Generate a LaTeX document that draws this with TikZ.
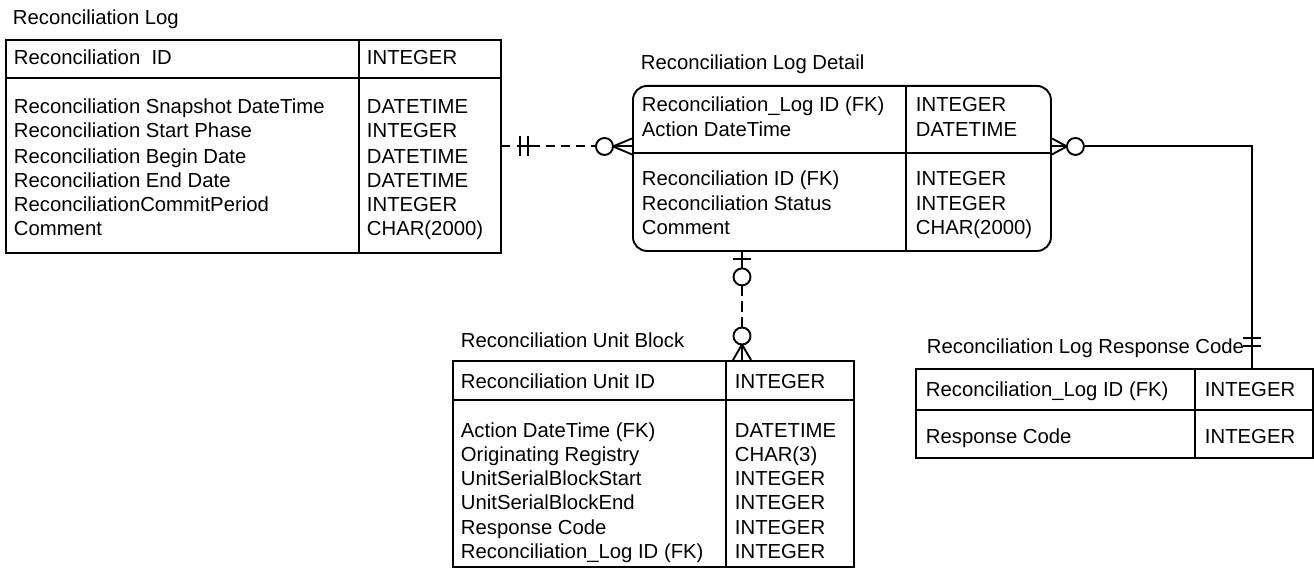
\documentclass[tikz,border=0pt]{standalone}
\usepackage{fontspec}
\setmainfont{Liberation Sans}
\usetikzlibrary{calc}
\begin{document}
\begin{tikzpicture}[x=1pt,y=-1pt,line width=1.9pt,
  txt/.style={inner sep=0pt,anchor=base west,font=\fontsize{20.3}{24}\selectfont},
  ent/.style={draw,inner sep=0pt,anchor=north west},
  conn/.style={line width=1.9pt},
  dsh/.style={dash pattern=on 9pt off 6pt}]
\useasboundingbox (0,0) rectangle (1314,575);

% ---------- Reconciliation Log ----------
\node[ent,minimum width=495pt,minimum height=213pt] (log) at (5,39) {};
\draw (359,39) -- (359,252);
\draw (5,78) -- (500,78);
\node[txt] (logT) at (12,25) {Reconciliation Log};
\node[txt] (logH) at (13,65) {Reconciliation\ \ ID};
\node[txt] (logHt) at (366,65) {INTEGER};
\node[txt] (log1) at (13,114) {Reconciliation Snapshot DateTime};
\node[txt] (log2) at (13,138) {Reconciliation Start Phase};
\node[txt] (log3) at (13,163) {Reconciliation Begin Date};
\node[txt] (log4) at (13,187) {Reconciliation End Date};
\node[txt] (log5) at (13,211) {ReconciliationCommitPeriod};
\node[txt] (log6) at (13,235) {Comment};
\node[txt] (log1t) at (366,114) {DATETIME};
\node[txt] (log2t) at (366,138) {INTEGER};
\node[txt] (log3t) at (366,163) {DATETIME};
\node[txt] (log4t) at (366,187) {DATETIME};
\node[txt] (log5t) at (366,211) {INTEGER};
\node[txt] (log6t) at (366,235) {CHAR(2000)};

% ---------- Reconciliation Log Detail ----------
\node[ent,rounded corners=14pt,minimum width=418pt,minimum height=165pt] (det) at (632,85) {};
\draw (906,85) -- (906,250);
\draw (632,153) -- (1050,153);
\node[txt] (detT) at (640,70) {Reconciliation Log Detail};
\node[txt] (det1) at (641,112) {Reconciliation\_Log ID (FK)};
\node[txt] (det2) at (641,137) {Action DateTime};
\node[txt] (det3) at (641,185) {Reconciliation ID (FK)};
\node[txt] (det4) at (641,210) {Reconciliation Status};
\node[txt] (det5) at (641,234) {Comment};
\node[txt] (det1t) at (915,112) {INTEGER};
\node[txt] (det2t) at (915,137) {DATETIME};
\node[txt] (det3t) at (915,185) {INTEGER};
\node[txt] (det4t) at (915,210) {INTEGER};
\node[txt] (det5t) at (915,234) {CHAR(2000)};

% ---------- Reconciliation Unit Block ----------
\node[ent,minimum width=401pt,minimum height=206pt] (unit) at (452,360) {};
\draw (726,360) -- (726,566);
\draw (452,400) -- (853,400);
\node[txt] (unitT) at (460,347) {Reconciliation Unit Block};
\node[txt] (unitH) at (460,388) {Reconciliation Unit ID};
\node[txt] (unitHt) at (734,388) {INTEGER};
\node[txt] (unit1) at (460,437) {Action DateTime (FK)};
\node[txt] (unit2) at (460,461) {Originating Registry};
\node[txt] (unit3) at (460,485) {UnitSerialBlockStart};
\node[txt] (unit4) at (460,509) {UnitSerialBlockEnd};
\node[txt] (unit5) at (460,534) {Response Code};
\node[txt] (unit6) at (460,558) {Reconciliation\_Log ID (FK)};
\node[txt] (unit1t) at (734,437) {DATETIME};
\node[txt] (unit2t) at (734,461) {CHAR(3)};
\node[txt] (unit3t) at (734,485) {INTEGER};
\node[txt] (unit4t) at (734,509) {INTEGER};
\node[txt] (unit5t) at (734,534) {INTEGER};
\node[txt] (unit6t) at (734,558) {INTEGER};

% ---------- Reconciliation Log Response Code ----------
\node[ent,minimum width=397pt,minimum height=89pt] (rc) at (915,368) {};
\draw (1195,368) -- (1195,457);
\draw (915,410) -- (1312,410);
\node[txt] (rcT) at (926,353) {Reconciliation Log Response Code};
\node[txt] (rc1) at (925,396) {Reconciliation\_Log ID (FK)};
\node[txt] (rc2) at (925,443) {Response Code};
\node[txt] (rc1t) at (1204,396) {INTEGER};
\node[txt] (rc2t) at (1204,443) {INTEGER};

% ---------- Connector: Log -> Detail ----------
\coordinate (aE) at (log.east -| det.west);
\draw[conn] (log.east) -- ++(8,0);
\draw[conn] ($(log.east)+(15,0)$) -- ++(14,0);
\draw[conn] ($(log.east)+(18,-10)$) -- ++(0,20);
\draw[conn] ($(log.east)+(26,-10)$) -- ++(0,20);
\draw[conn,dsh] ($(log.east)+(29,0)$) -- ($(aE)+(-36,0)$);
\draw[conn] ($(aE)+(-27.5,0)$) circle[radius=8.5pt];
\draw[conn] ($(aE)+(-19,0)$) -- ($(aE)+(0,-8)$);
\draw[conn] ($(aE)+(-19,0)$) -- (aE);
\draw[conn] ($(aE)+(-19,0)$) -- ($(aE)+(0,8)$);

% ---------- Connector: Detail -> Response Code ----------
\coordinate (bS) at (log.east -| det.east);
\coordinate (bE) at ([xshift=-62pt]rc.north east);
\draw[conn] ($(bS)+(0,-8)$) -- ($(bS)+(15,0)$);
\draw[conn] (bS) -- ($(bS)+(15,0)$);
\draw[conn] ($(bS)+(0,8)$) -- ($(bS)+(15,0)$);
\draw[conn] ($(bS)+(23.5,0)$) circle[radius=8.5pt];
\draw[conn] ($(bS)+(32,0)$) -| (bE);
\draw[conn] ($(bE)+(-9,-30)$) -- ++(18,0);
\draw[conn] ($(bE)+(-9,-22)$) -- ++(18,0);

% ---------- Connector: Detail -> Unit Block ----------
\coordinate (cS) at ([xshift=110pt]det.south west);
\coordinate (cE) at (cS |- unit.north);
\draw[conn] (cS) -- ++(0,16.5);
\draw[conn] ($(cS)+(-9,7)$) -- ++(18,0);
\draw[conn] ($(cS)+(0,25)$) circle[radius=8.5pt];
\draw[conn,dash pattern=on 11pt off 5pt] ($(cS)+(0,33.5)$) -- ($(cE)+(0,-32.5)$);
\draw[conn] ($(cE)+(0,-24)$) circle[radius=8.5pt];
\draw[conn] ($(cE)+(0,-15.5)$) -- ($(cE)+(-9,0)$);
\draw[conn] ($(cE)+(0,-15.5)$) -- (cE);
\draw[conn] ($(cE)+(0,-15.5)$) -- ($(cE)+(9,0)$);
\end{tikzpicture}
\end{document}
